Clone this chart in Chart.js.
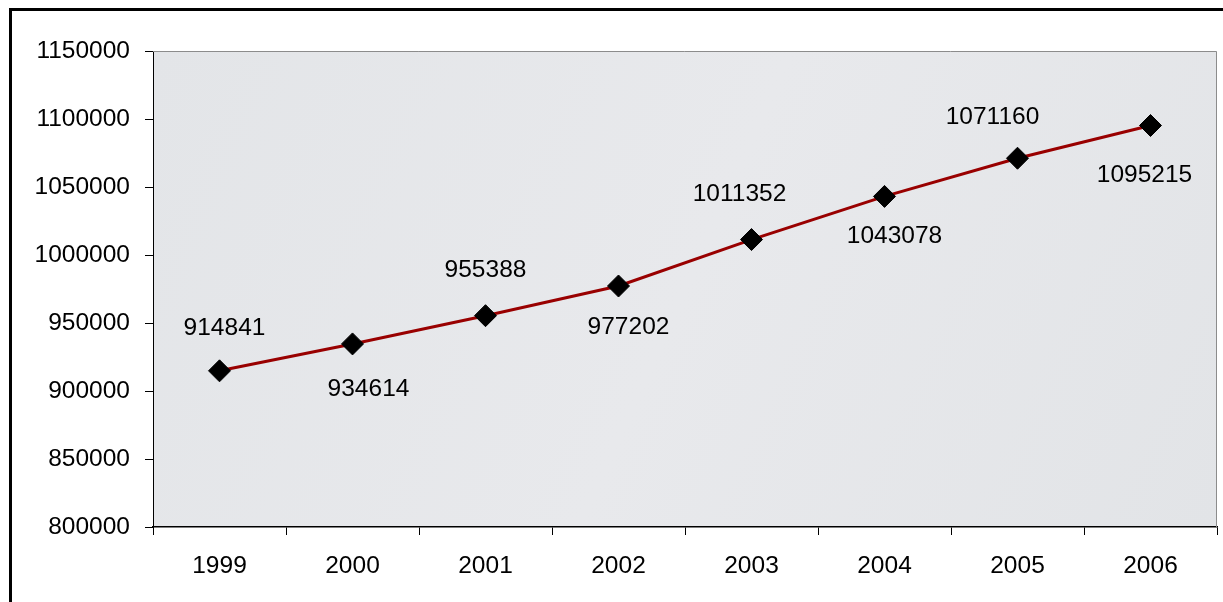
<!DOCTYPE html>
<html>
<head>
<meta charset="utf-8">
<script src="https://cdn.jsdelivr.net/npm/chart.js@4.4.1/dist/chart.umd.min.js"></script>
<style>
  html, body { margin: 0; padding: 0; background: #fff; }
  #wrap { width: 1223px; height: 602px; position: relative; }
</style>
</head>
<body>
<div id="wrap"><canvas id="c" width="1223" height="602"></canvas></div>
<script>
// ---- data ----
const years = ['1999', '2000', '2001', '2002', '2003', '2004', '2005', '2006'];
const population = [914841, 934614, 955388, 977202, 1011352, 1043078, 1071160, 1095215];
const yTickValues = [800000, 850000, 900000, 950000, 1000000, 1050000, 1100000, 1150000];
// label offsets relative to each point (dx, dy), as placed in the reference
const labelDx = [5, 16, 0, 10, -12, 10, -25, -6];
const labelDy = [-43, 45, -45, 41, -45, 40, -41, 50];

const FONT = '"Liberation Sans", Arial, sans-serif';
const FSIZE = 24.5;

const framePlugin = {
  id: 'frame',
  beforeDraw(chart) {
    const ctx = chart.ctx;
    const a = chart.chartArea;
    ctx.save();
    ctx.fillStyle = '#ffffff';
    ctx.fillRect(0, 0, chart.width, chart.height);
    // plot area fill (marble-like light grey)
    const g = ctx.createLinearGradient(a.left, a.top, a.right, a.bottom);
    g.addColorStop(0, '#e3e5e8');
    g.addColorStop(0.5, '#e8e9ec');
    g.addColorStop(1, '#e2e4e7');
    ctx.fillStyle = g;
    ctx.fillRect(a.left, a.top, a.right - a.left, a.bottom - a.top);
    // outer frame (left and top edges visible)
    ctx.strokeStyle = '#000';
    ctx.lineWidth = 3;
    ctx.beginPath();
    ctx.moveTo(10.5, chart.height + 5);
    ctx.lineTo(10.5, 9.5);
    ctx.lineTo(chart.width + 5, 9.5);
    ctx.stroke();
    ctx.restore();
  },
  afterDraw(chart) {
    const ctx = chart.ctx;
    const a = chart.chartArea;
    ctx.save();
    ctx.strokeStyle = '#8c8c8c';
    ctx.lineWidth = 1;
    ctx.beginPath();
    ctx.moveTo(a.left, a.top + 0.5);
    ctx.lineTo(a.right - 0.5, a.top + 0.5);
    ctx.lineTo(a.right - 0.5, a.bottom);
    ctx.stroke();
    ctx.restore();
  }
};

const labelPlugin = {
  id: 'pointLabels',
  afterDatasetsDraw(chart) {
    const ctx = chart.ctx;
    const meta = chart.getDatasetMeta(0);
    ctx.save();
    ctx.font = FSIZE + 'px ' + FONT;
    ctx.fillStyle = '#000';
    ctx.textAlign = 'center';
    ctx.textBaseline = 'middle';
    meta.data.forEach((pt, i) => {
      ctx.fillText(String(population[i]), pt.x + labelDx[i], pt.y + labelDy[i]);
    });
    ctx.restore();
  }
};

new Chart(document.getElementById('c'), {
  type: 'line',
  data: {
    labels: years,
    datasets: [{
      data: population,
      borderColor: '#990000',
      borderWidth: 3,
      tension: 0,
      pointStyle: 'rectRot',
      pointRadius: 11,
      pointHoverRadius: 11,
      pointBackgroundColor: '#000',
      pointBorderColor: '#000',
      pointBorderWidth: 1
    }]
  },
  options: {
    responsive: false,
    animation: false,
    events: [],
    layout: { autoPadding: false, padding: { top: 51, right: 6, left: 0, bottom: 0 } },
    plugins: { legend: { display: false }, tooltip: { enabled: false } },
    scales: {
      x: {
        offset: true,
        afterFit(s) { s.height = 75; s.paddingLeft = 0; s.paddingRight = 0; },
        grid: { offset: true, drawOnChartArea: false, drawTicks: true, tickLength: 8, color: '#000', lineWidth: 1 },
        border: { color: '#000', width: 1.5 },
        ticks: { color: '#000', font: { family: FONT, size: FSIZE }, padding: 17, maxRotation: 0 }
      },
      y: {
        min: 800000,
        max: 1150000,
        afterFit(s) { s.width = 153; s.paddingTop = 0; s.paddingBottom = 0; },
        afterBuildTicks(s) { s.ticks = yTickValues.map(v => ({ value: v })); },
        grid: { drawOnChartArea: false, drawTicks: true, tickLength: 8, color: '#000', lineWidth: 1 },
        border: { color: '#000', width: 1 },
        ticks: { color: '#000', font: { family: FONT, size: FSIZE }, padding: 15, callback: v => String(v) }
      }
    }
  },
  plugins: [framePlugin, labelPlugin]
});
</script>
</body>
</html>
